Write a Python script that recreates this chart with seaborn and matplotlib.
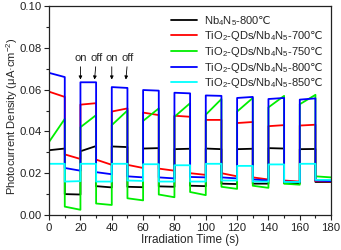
import numpy as np
import pandas as pd
import matplotlib
matplotlib.use("Agg")
import matplotlib.pyplot as plt
from matplotlib.ticker import MultipleLocator, FormatStrFormatter
import seaborn as sns

# light on/off cycles, 10 s each (start of each segment)
seg_start = list(range(0, 180, 10))

labels = [
    r"Nb$_4$N$_5$-800$\mathsf{℃}$",
    r"TiO$_2$-QDs/Nb$_4$N$_5$-700$\mathsf{℃}$",
    r"TiO$_2$-QDs/Nb$_4$N$_5$-750$\mathsf{℃}$",
    r"TiO$_2$-QDs/Nb$_4$N$_5$-800$\mathsf{℃}$",
    r"TiO$_2$-QDs/Nb$_4$N$_5$-850$\mathsf{℃}$",
]
colors = ["#000000", "#ff0000", "#00ee00", "#0000ff", "#00ffff"]

# value at the start / end of each segment (uA cm^-2)
nb_start = [0.0310, 0.0100, 0.0305, 0.0138, 0.0328, 0.0135, 0.0318, 0.0137, 0.0315,
            0.0140, 0.0318, 0.0150, 0.0315, 0.0150, 0.0320, 0.0152, 0.0315, 0.0158]
nb_end = [0.0318, 0.0098, 0.0330, 0.0132, 0.0325, 0.0133, 0.0320, 0.0135, 0.0317,
          0.0138, 0.0315, 0.0148, 0.0317, 0.0150, 0.0318, 0.0152, 0.0316, 0.0158]

t700_start = [0.0590, 0.0290, 0.0528, 0.0265, 0.0495, 0.0240, 0.0490, 0.0222, 0.0475,
              0.0200, 0.0455, 0.0200, 0.0440, 0.0180, 0.0425, 0.0165, 0.0428, 0.0162]
t700_end = [0.0565, 0.0268, 0.0535, 0.0240, 0.0510, 0.0225, 0.0478, 0.0212, 0.0470,
            0.0192, 0.0455, 0.0185, 0.0445, 0.0170, 0.0430, 0.0160, 0.0432, 0.0160]

t750_start = [0.0350, 0.0040, 0.0420, 0.0055, 0.0430, 0.0080, 0.0450, 0.0098, 0.0470,
              0.0110, 0.0480, 0.0135, 0.0495, 0.0140, 0.0515, 0.0150, 0.0530, 0.0185]
t750_end = [0.0460, 0.0025, 0.0478, 0.0048, 0.0500, 0.0070, 0.0510, 0.0085, 0.0535,
            0.0095, 0.0555, 0.0125, 0.0560, 0.0130, 0.0570, 0.0145, 0.0575, 0.0180]

t800_start = [0.0680, 0.0225, 0.0635, 0.0205, 0.0612, 0.0185, 0.0598, 0.0180, 0.0585,
              0.0182, 0.0572, 0.0180, 0.0560, 0.0170, 0.0555, 0.0160, 0.0552, 0.0165]
t800_end = [0.0660, 0.0212, 0.0635, 0.0195, 0.0608, 0.0180, 0.0595, 0.0175, 0.0582,
            0.0180, 0.0570, 0.0175, 0.0565, 0.0165, 0.0560, 0.0158, 0.0558, 0.0162]

t850_start = [0.0245, 0.0160, 0.0245, 0.0160, 0.0245, 0.0165, 0.0243, 0.0160, 0.0238,
              0.0160, 0.0245, 0.0165, 0.0235, 0.0160, 0.0242, 0.0158, 0.0245, 0.0168]
t850_end = [0.0245, 0.0162, 0.0245, 0.0160, 0.0245, 0.0163, 0.0243, 0.0160, 0.0238,
            0.0160, 0.0245, 0.0165, 0.0235, 0.0160, 0.0242, 0.0158, 0.0245, 0.0168]

series = [(nb_start, nb_end), (t700_start, t700_end), (t750_start, t750_end),
          (t800_start, t800_end), (t850_start, t850_end)]

rows = []
for lab, (s, e) in zip(labels, series):
    for t0, v0, v1 in zip(seg_start, s, e):
        rows.append((lab, t0, v0))
        rows.append((lab, t0 + 10, v1))
df = pd.DataFrame(rows, columns=["sample", "t", "j"])

sns.set_style("white")
plt.rcParams["font.family"] = ["Liberation Sans", "DejaVu Sans"]
plt.rcParams["mathtext.fontset"] = "custom"
plt.rcParams["mathtext.rm"] = "Liberation Sans"
plt.rcParams["mathtext.it"] = "Liberation Sans:italic"
plt.rcParams["mathtext.sf"] = "DejaVu Sans"
plt.rcParams["mathtext.default"] = "rm"

fig = plt.figure(figsize=(3.41, 2.5), dpi=100)
ax = fig.add_axes([0.144, 0.14, 0.827, 0.836])

sns.lineplot(data=df, x="t", y="j", hue="sample", hue_order=labels,
             palette=dict(zip(labels, colors)), estimator=None, sort=False,
             lw=1.3, ax=ax)

ax.set_xlim(0, 180)
ax.set_ylim(0, 0.10)
ax.xaxis.set_major_locator(MultipleLocator(20))
ax.xaxis.set_minor_locator(MultipleLocator(10))
ax.yaxis.set_major_locator(MultipleLocator(0.02))
ax.yaxis.set_minor_locator(MultipleLocator(0.01))
ax.tick_params(which="both", direction="out", labelsize=8.2, top=False, right=False,
               bottom=True, left=True, pad=2, colors="#222222")
ax.tick_params(which="major", length=3.5, width=0.8)
ax.tick_params(which="minor", length=2, width=0.8)
ax.yaxis.set_major_formatter(FormatStrFormatter("%.2f"))
for sp in ax.spines.values():
    sp.set_linewidth(0.9)
    sp.set_color("#222222")

ax.set_xlabel("Irradiation Time (s)", fontsize=8.5, labelpad=1)
ax.set_ylabel(r"Photocurrent Density ($\mu$A·cm$^{-2}$)", fontsize=8)
ax.yaxis.set_label_coords(-0.102, 0.47)

# on/off markers
for tx, lab in [(20, "on"), (29, "off"), (40, "on"), (49, "off")]:
    ax.annotate(lab, xy=(tx, 0.0648), xytext=(tx + (0 if lab == "on" else 1.2), 0.0725),
                ha="center", va="bottom", fontsize=8,
                arrowprops=dict(arrowstyle="-|>", lw=0.6, color="black",
                                mutation_scale=5, shrinkA=0, shrinkB=0))

ax.legend(loc="upper right", frameon=False, fontsize=8, handlelength=2.4,
          handletextpad=0.6, labelspacing=0.15, borderaxespad=0.3)

fig.savefig("out.png", dpi=100)
